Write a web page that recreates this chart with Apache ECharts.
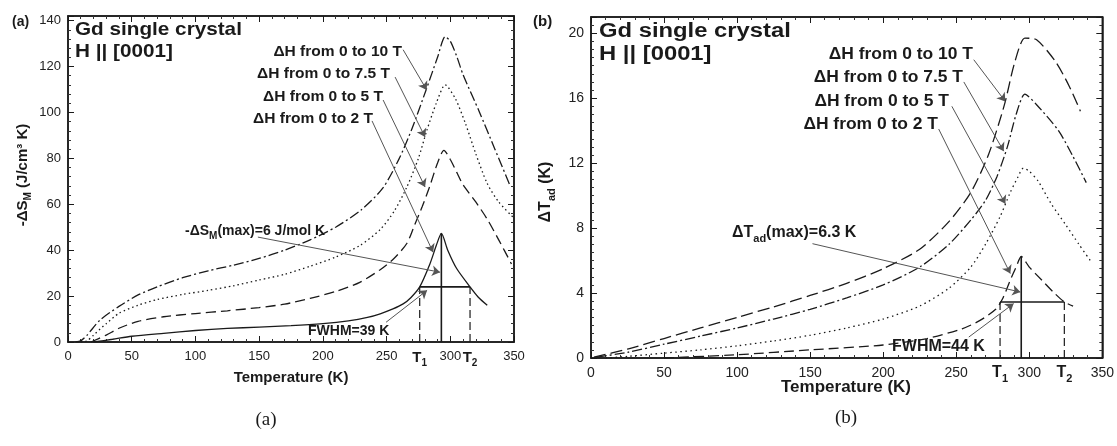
<!doctype html>
<html>
<head>
<meta charset="utf-8">
<script src="https://cdn.jsdelivr.net/npm/echarts@6/dist/echarts.min.js"></script>
<style>
html,body{margin:0;padding:0;background:#fff;}
#main{width:1117px;height:446px;}
</style>
</head>
<body>
<div id="main"></div>
<script>
// panel (a): -dS_M (J/cm3 K) vs temperature, pairs [T, value]
var dsm10 = [[6,0],[10,0.5],[15,3],[25,9.5],[40,15.5],[55,20.5],[70,24],[90,28],[110,31],[130,33.5],[150,36.4],[170,40],[190,44.5],[210,50],[230,57.5],[247,67],[260,80],[270,93],[281,109.8],[290,124],[296,133],[300,131],[305,124.5],[310,116.5],[323,100],[335,84],[347,68]];
var dsm75 = [[10,0],[15,0.5],[20,3],[30,8],[40,12.5],[55,16],[70,18.5],[90,20.7],[110,22.5],[130,24.5],[150,27],[170,29.5],[190,33],[210,37],[229,42],[245,49],[256,57],[266,67.6],[275,80],[281.5,92],[289,104],[296,112],[304,106],[312,95],[320,82],[329,69],[338,61],[349,54.5]];
var dsm5 = [[18,0],[30,3],[40,6],[55,9],[75,11],[100,12.4],[125,13.6],[150,15],[170,16.5],[190,19],[210,22],[229,26],[245,31.5],[256,36.5],[266,43],[272,51],[278,59],[284,68],[290,78],[295,83.5],[300,79.5],[305,74],[310,68.5],[320,61],[329,53.5],[338,44.5],[348,34]];
var dsm2 = [[20,0],[35,1.2],[50,2.5],[75,3.8],[100,5],[125,5.9],[150,6.5],[175,7.1],[200,8],[220,9.2],[235,10.7],[245,12.3],[255,14.4],[263,16.6],[269,19.3],[276,24],[284,34],[289,42],[293,47.3],[298,40],[305,32],[315.5,24],[322,19.5],[329,16]];
// FWHM construction for (a): T1, T2, half height, peak T, peak value
var fwhmA = [276, 315.5, 24, 293, 47.3];

// panel (b): dT_ad (K) vs temperature
var dt10 = [[2,0.05],[25,0.55],[50,1.2],[75,1.85],[100,2.5],[125,3.15],[150,3.85],[175,4.6],[200,5.5],[225,6.7],[245,8.4],[260,10.2],[272,12.5],[283,15.6],[290,18.2],[297,19.7],[305,19.6],[318,18.25],[327,16.8],[335,15.2]];
var dt75 = [[4,0.05],[25,0.35],[50,0.85],[75,1.35],[100,1.85],[125,2.4],[150,3.0],[175,3.7],[200,4.5],[225,5.6],[245,7.0],[260,8.5],[270,9.7],[278,11.2],[285,13.0],[291,15.0],[297,16.25],[305,15.6],[320,14],[330,12.4],[339,10.8]];
var dt5 = [[10,0],[25,0.1],[50,0.3],[75,0.5],[100,0.75],[125,1.05],[150,1.4],[175,1.85],[200,2.4],[225,3.2],[245,4.3],[260,5.6],[270,7.0],[280,8.7],[287,10.2],[292,11.1],[296,11.7],[300,11.5],[306,10.9],[315,9.5],[325,8.2],[334,7.0],[342.6,5.9]];
var dt2 = [[50,0],[100,0.2],[150,0.5],[200,0.8],[230,1.2],[254,1.8],[266,2.3],[277,3.0],[282,3.7],[287,4.8],[291,5.6],[294.5,6.25],[300,5.6],[308.5,4.8],[316,4.1],[324,3.45],[330,3.2]];
var fwhmB = [280, 324, 3.45, 294.5, 6.25];

var xTicks = [0, 50, 100, 150, 200, 250, 300, 350];

// annotation arrows [fromT, fromV, toT, toV]
var arrowsA = [[263,127.3,281.5,109.8],[256.7,115.4,280.2,89.3],[247.3,105.4,280.2,67.5],[238.6,96.3,286.5,39.1],[149,45.7,292,30.4],[249.6,8.6,281.8,22.5]];
var arrowsB = [[262,18.37,283.6,15.8],[255.2,17.0,282.5,12.74],[247,15.5,283.6,9.5],[238,14.1,287,5.2],[151.6,7.04,293.9,4.06],[258.6,1.29,289.3,3.35]];

var FONT = 'Liberation Sans, Arial, sans-serif';
var INK = '#1a1a1a';

function xAx(grid, pos, labels, fs) {
  return {
    type: 'value', gridIndex: grid, position: pos, min: 0, max: 350, interval: 50,
    axisLine: { show: true, onZero: false, lineStyle: { color: INK, width: 1.5 } },
    axisTick: { show: true, inside: true, length: 6, lineStyle: { color: INK } },
    minorTick: { show: true, splitNumber: 5, length: 3, lineStyle: { color: '#333' } },
    splitLine: { show: false },
    axisLabel: { show: labels, color: '#222', fontSize: fs, fontFamily: FONT, margin: 8,
      formatter: function (v) { return xTicks.indexOf(v) >= 0 ? v : ''; } }
  };
}
function yAx(grid, pos, labels, max, step, minor, fs) {
  return {
    type: 'value', gridIndex: grid, position: pos, min: 0, max: max, interval: step,
    axisLine: { show: true, onZero: false, lineStyle: { color: INK, width: 1.5 } },
    axisTick: { show: true, inside: true, length: 6, lineStyle: { color: INK } },
    minorTick: { show: true, splitNumber: minor, length: 3, lineStyle: { color: '#333' } },
    splitLine: { show: false },
    axisLabel: { show: labels, color: '#222', fontSize: fs, fontFamily: FONT, margin: 7, showMaxLabel: false }
  };
}

function curve(data, axis, dash) {
  return {
    type: 'line', data: data, xAxisIndex: axis, yAxisIndex: axis,
    showSymbol: false, smooth: 0.25, silent: true, animation: false,
    lineStyle: { color: INK, width: 1.3, type: dash }
  };
}
function seg(pts, axis, dash, w) {
  return {
    type: 'line', data: pts, xAxisIndex: axis, yAxisIndex: axis,
    showSymbol: false, silent: true, animation: false,
    lineStyle: { color: INK, width: w, type: dash }
  };
}
function fwhmSeries(f, axis) {
  return [
    seg([[f[0], 0], [f[0], f[2]]], axis, [8, 4], 1.2),
    seg([[f[1], 0], [f[1], f[2]]], axis, [8, 4], 1.2),
    seg([[f[0], f[2]], [f[1], f[2]]], axis, 'solid', 1.6),
    seg([[f[3], 0], [f[3], f[4]]], axis, 'solid', 1.6)
  ];
}
function arrowSeries(list, axis) {
  return {
    type: 'line', data: [], xAxisIndex: axis, yAxisIndex: axis, silent: true, animation: false,
    markLine: {
      silent: true, animation: false, symbol: ['none', 'arrow'], symbolSize: 8, precision: 3,
      label: { show: false },
      lineStyle: { color: '#555', width: 1, type: 'solid' },
      data: list.map(function (a) { return [{ coord: [a[0], a[1]] }, { coord: [a[2], a[3]] }]; })
    }
  };
}

var sub = function (fs) { return { fontSize: fs, fontWeight: 'bold', fontFamily: FONT, lineHeight: fs, verticalAlign: 'bottom', fill: INK }; };
var main = function (fs) { return { fontSize: fs, fontWeight: 'bold', fontFamily: FONT, lineHeight: fs + 6, verticalAlign: 'middle', fill: INK }; };

function txt(x, y, s, fs, align, sx, extra) {
  var o = {
    type: 'text', x: x, y: y, scaleX: sx || 1, silent: true,
    style: { text: s, fontSize: fs, fontWeight: 'bold', fontFamily: FONT, fill: INK,
      textAlign: align || 'left', textVerticalAlign: 'middle', verticalAlign: 'middle' }
  };
  if (extra) { for (var k in extra) o.style[k] = extra[k]; }
  return o;
}
function rtxt(x, y, s, fs, sfs, align, rot) {
  return {
    type: 'text', x: x, y: y, rotation: rot || 0, silent: true,
    style: { text: s, textAlign: align || 'left', textVerticalAlign: 'middle', verticalAlign: 'middle',
      rich: { m: main(fs), s: sub(sfs) } }
  };
}

var chart = echarts.init(document.getElementById('main'));
var option = {
  animation: false,
  backgroundColor: '#fff',
  grid: [
    { left: 68, top: 16, width: 446, height: 326, show: true, borderColor: INK, borderWidth: 1.5 },
    { left: 591, top: 17, width: 513, height: 341, show: true, borderColor: INK, borderWidth: 1.5 }
  ],
  xAxis: [xAx(0, 'bottom', true, 13), xAx(1, 'bottom', true, 14), xAx(0, 'top', false, 13), xAx(1, 'top', false, 14)],
  yAxis: [yAx(0, 'left', true, 142, 20, 5, 13), yAx(1, 'left', true, 21, 4, 8, 14), yAx(0, 'right', false, 142, 20, 5, 13), yAx(1, 'right', false, 21, 4, 8, 14)],
  series: [
    curve(dsm10, 0, [10, 3, 2, 3]),
    curve(dsm75, 0, [1.5, 3]),
    curve(dsm5, 0, [10, 5]),
    curve(dsm2, 0, 'solid'),
    curve(dt10, 1, [12, 5]),
    curve(dt75, 1, [10, 3, 2, 3]),
    curve(dt5, 1, [1.5, 3.5]),
    curve(dt2, 1, [10, 5])
  ].concat(fwhmSeries(fwhmA, 0), fwhmSeries(fwhmB, 1), [arrowSeries(arrowsA, 0), arrowSeries(arrowsB, 1)])
};
chart.setOption(option);

var pA1 = chart.convertToPixel({ gridIndex: 0 }, [fwhmA[0], 0]);
var pA2 = chart.convertToPixel({ gridIndex: 0 }, [fwhmA[1], 0]);
var pB1 = chart.convertToPixel({ gridIndex: 1 }, [fwhmB[0], 0]);
var pB2 = chart.convertToPixel({ gridIndex: 1 }, [fwhmB[1], 0]);

var graphics = [
  txt(12, 22, '(a)', 14),
  txt(533, 22, '(b)', 15),
  txt(75, 30, 'Gd single crystal', 19, 'left', 1.09),
  txt(75, 52, 'H || [0001]', 19, 'left', 1.09),
  txt(599, 31, 'Gd single crystal', 20, 'left', 1.19),
  txt(599, 54, 'H || [0001]', 20, 'left', 1.19),
  txt(402, 52, '\u0394H from 0 to 10 T', 14, 'right', 1.11),
  txt(390, 74, '\u0394H from 0 to 7.5 T', 14, 'right', 1.11),
  txt(383, 97, '\u0394H from 0 to 5 T', 14, 'right', 1.11),
  txt(373, 119, '\u0394H from 0 to 2 T', 14, 'right', 1.11),
  txt(973, 55, '\u0394H from 0 to 10 T', 16, 'right', 1.09),
  txt(963, 78, '\u0394H from 0 to 7.5 T', 16, 'right', 1.09),
  txt(949, 102, '\u0394H from 0 to 5 T', 16, 'right', 1.09),
  txt(938, 125, '\u0394H from 0 to 2 T', 16, 'right', 1.09),
  rtxt(185, 231, '{m|-\u0394S}{s|M}{m|(max)=6 J/mol K}', 14, 10),
  rtxt(732, 233, '{m|\u0394T}{s|ad}{m|(max)=6.3 K}', 16, 11),
  txt(308, 331, 'FWHM=39 K', 14),
  txt(892, 347, 'FWHM=44 K', 16),
  txt(291, 378, 'Temperature (K)', 15, 'center'),
  txt(846, 387, 'Temperature (K)', 17, 'center'),
  rtxt(23, 175, '{m|-\u0394S}{s|M}{m| (J/cm\u00b3 K)}', 15, 10, 'center', Math.PI / 2),
  rtxt(546, 192, '{m|\u0394T}{s|ad}{m| (K)}', 16, 11, 'center', Math.PI / 2),
  rtxt(pA1[0], 358, '{m|T}{s|1}', 15, 10, 'center'),
  rtxt(pA2[0], 358, '{m|T}{s|2}', 15, 10, 'center'),
  rtxt(pB1[0], 373, '{m|T}{s|1}', 16, 11, 'center'),
  rtxt(pB2[0], 373, '{m|T}{s|2}', 16, 11, 'center'),
  txt(266, 420, '(a)', 19, 'center', 1, { fontWeight: 'normal', fontFamily: 'Liberation Serif, Times New Roman, serif' }),
  txt(846, 418, '(b)', 19, 'center', 1, { fontWeight: 'normal', fontFamily: 'Liberation Serif, Times New Roman, serif' })
];
chart.setOption({ graphic: graphics });
</script>
</body>
</html>
